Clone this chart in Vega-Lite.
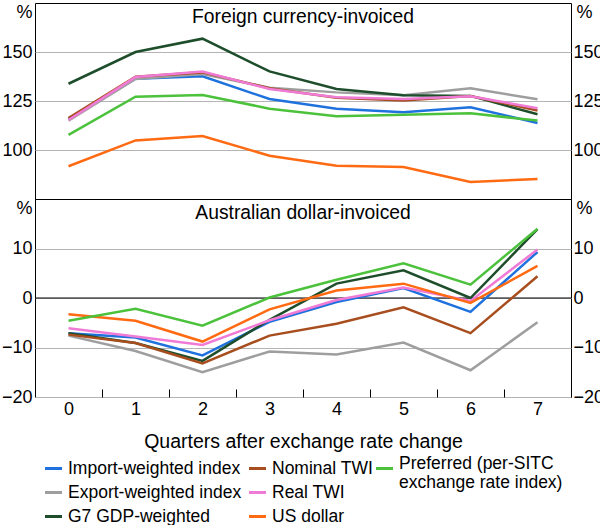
{
  "$schema": "https://vega.github.io/schema/vega-lite/v6.json",
  "padding": {"left": 0, "top": 2, "right": 0, "bottom": 0},
  "spacing": 0,
  "bounds": "flush",
  "datasets": {
    "foreign": [
      {"quarter": 0, "series": "Import-weighted index", "value": 116.0},
      {"quarter": 1, "series": "Import-weighted index", "value": 136.4},
      {"quarter": 2, "series": "Import-weighted index", "value": 137.6},
      {"quarter": 3, "series": "Import-weighted index", "value": 126.0},
      {"quarter": 4, "series": "Import-weighted index", "value": 121.1},
      {"quarter": 5, "series": "Import-weighted index", "value": 119.2},
      {"quarter": 6, "series": "Import-weighted index", "value": 121.8},
      {"quarter": 7, "series": "Import-weighted index", "value": 113.8},
      {"quarter": 0, "series": "Export-weighted index", "value": 115.0},
      {"quarter": 1, "series": "Export-weighted index", "value": 136.2},
      {"quarter": 2, "series": "Export-weighted index", "value": 138.8},
      {"quarter": 3, "series": "Export-weighted index", "value": 131.8},
      {"quarter": 4, "series": "Export-weighted index", "value": 129.4},
      {"quarter": 5, "series": "Export-weighted index", "value": 127.9},
      {"quarter": 6, "series": "Export-weighted index", "value": 131.5},
      {"quarter": 7, "series": "Export-weighted index", "value": 125.9},
      {"quarter": 0, "series": "G7 GDP-weighted", "value": 133.8},
      {"quarter": 1, "series": "G7 GDP-weighted", "value": 150.0},
      {"quarter": 2, "series": "G7 GDP-weighted", "value": 156.8},
      {"quarter": 3, "series": "G7 GDP-weighted", "value": 140.1},
      {"quarter": 4, "series": "G7 GDP-weighted", "value": 131.1},
      {"quarter": 5, "series": "G7 GDP-weighted", "value": 127.9},
      {"quarter": 6, "series": "G7 GDP-weighted", "value": 127.6},
      {"quarter": 7, "series": "G7 GDP-weighted", "value": 118.2},
      {"quarter": 0, "series": "Nominal TWI", "value": 116.3},
      {"quarter": 1, "series": "Nominal TWI", "value": 137.4},
      {"quarter": 2, "series": "Nominal TWI", "value": 139.6},
      {"quarter": 3, "series": "Nominal TWI", "value": 131.5},
      {"quarter": 4, "series": "Nominal TWI", "value": 126.7},
      {"quarter": 5, "series": "Nominal TWI", "value": 125.2},
      {"quarter": 6, "series": "Nominal TWI", "value": 127.6},
      {"quarter": 7, "series": "Nominal TWI", "value": 120.2},
      {"quarter": 0, "series": "Real TWI", "value": 115.3},
      {"quarter": 1, "series": "Real TWI", "value": 137.2},
      {"quarter": 2, "series": "Real TWI", "value": 140.0},
      {"quarter": 3, "series": "Real TWI", "value": 131.1},
      {"quarter": 4, "series": "Real TWI", "value": 126.9},
      {"quarter": 5, "series": "Real TWI", "value": 126.0},
      {"quarter": 6, "series": "Real TWI", "value": 127.4},
      {"quarter": 7, "series": "Real TWI", "value": 121.3},
      {"quarter": 0, "series": "US dollar", "value": 91.7},
      {"quarter": 1, "series": "US dollar", "value": 104.9},
      {"quarter": 2, "series": "US dollar", "value": 107.1},
      {"quarter": 3, "series": "US dollar", "value": 97.1},
      {"quarter": 4, "series": "US dollar", "value": 92.0},
      {"quarter": 5, "series": "US dollar", "value": 91.3},
      {"quarter": 6, "series": "US dollar", "value": 83.7},
      {"quarter": 7, "series": "US dollar", "value": 85.2},
      {"quarter": 0, "series": "Preferred (per-SITC exchange rate index)", "value": 107.7},
      {"quarter": 1, "series": "Preferred (per-SITC exchange rate index)", "value": 127.2},
      {"quarter": 2, "series": "Preferred (per-SITC exchange rate index)", "value": 128.1},
      {"quarter": 3, "series": "Preferred (per-SITC exchange rate index)", "value": 121.1},
      {"quarter": 4, "series": "Preferred (per-SITC exchange rate index)", "value": 117.2},
      {"quarter": 5, "series": "Preferred (per-SITC exchange rate index)", "value": 118.0},
      {"quarter": 6, "series": "Preferred (per-SITC exchange rate index)", "value": 118.7},
      {"quarter": 7, "series": "Preferred (per-SITC exchange rate index)", "value": 115.0}
    ],
    "aud": [
      {"quarter": 0, "series": "Import-weighted index", "value": -7.1},
      {"quarter": 1, "series": "Import-weighted index", "value": -8.0},
      {"quarter": 2, "series": "Import-weighted index", "value": -11.6},
      {"quarter": 3, "series": "Import-weighted index", "value": -4.8},
      {"quarter": 4, "series": "Import-weighted index", "value": -0.8},
      {"quarter": 5, "series": "Import-weighted index", "value": 2.0},
      {"quarter": 6, "series": "Import-weighted index", "value": -2.8},
      {"quarter": 7, "series": "Import-weighted index", "value": 9.3},
      {"quarter": 0, "series": "Export-weighted index", "value": -7.6},
      {"quarter": 1, "series": "Export-weighted index", "value": -10.7},
      {"quarter": 2, "series": "Export-weighted index", "value": -15.0},
      {"quarter": 3, "series": "Export-weighted index", "value": -10.8},
      {"quarter": 4, "series": "Export-weighted index", "value": -11.4},
      {"quarter": 5, "series": "Export-weighted index", "value": -9.0},
      {"quarter": 6, "series": "Export-weighted index", "value": -14.6},
      {"quarter": 7, "series": "Export-weighted index", "value": -4.9},
      {"quarter": 0, "series": "G7 GDP-weighted", "value": -7.1},
      {"quarter": 1, "series": "G7 GDP-weighted", "value": -9.1},
      {"quarter": 2, "series": "G7 GDP-weighted", "value": -12.7},
      {"quarter": 3, "series": "G7 GDP-weighted", "value": -4.4},
      {"quarter": 4, "series": "G7 GDP-weighted", "value": 2.9},
      {"quarter": 5, "series": "G7 GDP-weighted", "value": 5.6},
      {"quarter": 6, "series": "G7 GDP-weighted", "value": 0.0},
      {"quarter": 7, "series": "G7 GDP-weighted", "value": 13.9},
      {"quarter": 0, "series": "Nominal TWI", "value": -7.4},
      {"quarter": 1, "series": "Nominal TWI", "value": -9.1},
      {"quarter": 2, "series": "Nominal TWI", "value": -13.2},
      {"quarter": 3, "series": "Nominal TWI", "value": -7.6},
      {"quarter": 4, "series": "Nominal TWI", "value": -5.2},
      {"quarter": 5, "series": "Nominal TWI", "value": -1.9},
      {"quarter": 6, "series": "Nominal TWI", "value": -7.1},
      {"quarter": 7, "series": "Nominal TWI", "value": 4.4},
      {"quarter": 0, "series": "Real TWI", "value": -6.1},
      {"quarter": 1, "series": "Real TWI", "value": -7.8},
      {"quarter": 2, "series": "Real TWI", "value": -9.5},
      {"quarter": 3, "series": "Real TWI", "value": -4.5},
      {"quarter": 4, "series": "Real TWI", "value": -0.4},
      {"quarter": 5, "series": "Real TWI", "value": 2.1},
      {"quarter": 6, "series": "Real TWI", "value": -0.6},
      {"quarter": 7, "series": "Real TWI", "value": 9.8},
      {"quarter": 0, "series": "US dollar", "value": -3.3},
      {"quarter": 1, "series": "US dollar", "value": -4.6},
      {"quarter": 2, "series": "US dollar", "value": -8.8},
      {"quarter": 3, "series": "US dollar", "value": -2.3},
      {"quarter": 4, "series": "US dollar", "value": 1.5},
      {"quarter": 5, "series": "US dollar", "value": 2.9},
      {"quarter": 6, "series": "US dollar", "value": -1.0},
      {"quarter": 7, "series": "US dollar", "value": 6.5},
      {"quarter": 0, "series": "Preferred (per-SITC exchange rate index)", "value": -4.6},
      {"quarter": 1, "series": "Preferred (per-SITC exchange rate index)", "value": -2.2},
      {"quarter": 2, "series": "Preferred (per-SITC exchange rate index)", "value": -5.6},
      {"quarter": 3, "series": "Preferred (per-SITC exchange rate index)", "value": 0.1},
      {"quarter": 4, "series": "Preferred (per-SITC exchange rate index)", "value": 3.7},
      {"quarter": 5, "series": "Preferred (per-SITC exchange rate index)", "value": 7.0},
      {"quarter": 6, "series": "Preferred (per-SITC exchange rate index)", "value": 2.7},
      {"quarter": 7, "series": "Preferred (per-SITC exchange rate index)", "value": 14.0}
    ]
  },
  "vconcat": [
    {
      "width": 536,
      "height": 196,
      "data": {"name": "foreign"},
      "title": {"text": "Foreign currency-invoiced", "anchor": "middle", "offset": -24},
      "layer": [
        {
          "transform": [{"filter": "datum.series != 'Preferred (per-SITC exchange rate index)'"}],
          "mark": {"type": "line", "strokeWidth": 2.5},
          "encoding": {
            "x": {"field": "quarter", "type": "ordinal", "axis": null, "scale": {"type": "point", "padding": 0.5}},
            "y": {
              "field": "value", "type": "quantitative",
              "scale": {"domain": [75, 175], "nice": false},
              "axis": {"orient": "left", "values": [100, 125, 150], "grid": true, "labelPadding": 3, "title": "%", "titleAngle": 0, "titleX": -11, "titleY": 9, "titleAlign": "center", "titleBaseline": "middle"}
            },
            "stroke": {
              "field": "series", "type": "nominal",
              "scale": {
                "domain": ["Import-weighted index", "Nominal TWI", "Export-weighted index", "Real TWI", "G7 GDP-weighted", "US dollar"],
                "range": ["#1f72de", "#a84e1e", "#9e9e9e", "#f07bd6", "#1e4d2b", "#ff6a13"]
              },
              "legend": {"orient": "bottom", "title": null, "columns": 2, "columnPadding": 0, "rowPadding": 5, "labelOffset": 4, "offset": 7, "padding": 0, "labelLimit": 300}
            }
          }
        },
        {
          "transform": [{"filter": "datum.series == 'Preferred (per-SITC exchange rate index)'"}],
          "mark": {"type": "line", "strokeWidth": 2.5},
          "encoding": {
            "x": {"field": "quarter", "type": "ordinal", "axis": null, "scale": {"type": "point", "padding": 0.5}},
            "y": {
              "field": "value", "type": "quantitative",
              "scale": {"domain": [75, 175], "nice": false},
              "axis": {"orient": "right", "values": [100, 125, 150], "grid": false, "labelPadding": 2, "title": "%", "titleAngle": 0, "titleX": 13, "titleY": 9, "titleAlign": "center", "titleBaseline": "middle"}
            },
            "color": {
              "field": "series", "type": "nominal",
              "scale": {"domain": ["Preferred (per-SITC exchange rate index)"], "range": ["#4cc23c"]},
              "legend": {"orient": "bottom", "title": null, "offset": 7, "padding": 0, "labelOffset": 4, "labelLimit": 300, "labelBaseline": "alphabetic", "labelExpr": "['Preferred (per-SITC', ' ', 'exchange rate index)']"}
            }
          }
        }
      ],
      "resolve": {"axis": {"y": "independent"}}
    },
    {
      "width": 536,
      "height": 198,
      "data": {"name": "aud"},
      "title": {"text": "Australian dollar-invoiced", "anchor": "middle", "offset": -24},
      "layer": [
        {
          "data": {"values": [{"level": 0}]},
          "mark": {"type": "rule", "color": "#000", "strokeWidth": 1},
          "encoding": {
            "y": {"field": "level", "type": "quantitative", "axis": null, "scale": {"domain": [-20, 20], "nice": false}}
          }
        },
        {
          "transform": [{"filter": "datum.series != 'Preferred (per-SITC exchange rate index)'"}],
          "mark": {"type": "line", "strokeWidth": 2.5},
          "encoding": {
            "x": {
              "field": "quarter", "type": "ordinal", "scale": {"type": "point", "padding": 0.5},
              "axis": {"orient": "bottom", "labelAngle": 0, "ticks": true, "tickSize": -8, "tickOffset": 33.5, "labelOffset": -33.5, "tickColor": "#000", "labelPadding": 11, "title": "Quarters after exchange rate change", "titleFontSize": 19.5, "titlePadding": 14}
            },
            "y": {
              "field": "value", "type": "quantitative",
              "scale": {"domain": [-20, 20], "nice": false},
              "axis": {"orient": "left", "values": [-20, -10, 0, 10], "grid": true, "labelPadding": 3, "title": "%", "titleAngle": 0, "titleX": -11, "titleY": 9, "titleAlign": "center", "titleBaseline": "middle"}
            },
            "stroke": {
              "field": "series", "type": "nominal",
              "scale": {
                "domain": ["Import-weighted index", "Nominal TWI", "Export-weighted index", "Real TWI", "G7 GDP-weighted", "US dollar"],
                "range": ["#1f72de", "#a84e1e", "#9e9e9e", "#f07bd6", "#1e4d2b", "#ff6a13"]
              },
              "legend": {"orient": "bottom", "title": null, "columns": 2, "columnPadding": 0, "rowPadding": 5, "labelOffset": 4, "offset": 7, "padding": 0, "labelLimit": 300}
            }
          }
        },
        {
          "transform": [{"filter": "datum.series == 'Preferred (per-SITC exchange rate index)'"}],
          "mark": {"type": "line", "strokeWidth": 2.5},
          "encoding": {
            "x": {
              "field": "quarter", "type": "ordinal", "scale": {"type": "point", "padding": 0.5},
              "axis": {"orient": "bottom", "labelAngle": 0, "ticks": true, "tickSize": -8, "tickOffset": 33.5, "labelOffset": -33.5, "tickColor": "#000", "labelPadding": 11, "title": "Quarters after exchange rate change", "titleFontSize": 19.5, "titlePadding": 14}
            },
            "y": {
              "field": "value", "type": "quantitative",
              "scale": {"domain": [-20, 20], "nice": false},
              "axis": {"orient": "right", "values": [-20, -10, 0, 10], "grid": false, "labelPadding": 2, "title": "%", "titleAngle": 0, "titleX": 13, "titleY": 9, "titleAlign": "center", "titleBaseline": "middle"}
            },
            "color": {
              "field": "series", "type": "nominal",
              "scale": {"domain": ["Preferred (per-SITC exchange rate index)"], "range": ["#4cc23c"]},
              "legend": {"orient": "bottom", "title": null, "offset": 7, "padding": 0, "labelOffset": 4, "labelLimit": 300, "labelBaseline": "alphabetic", "labelExpr": "['Preferred (per-SITC', ' ', 'exchange rate index)']"}
            }
          }
        }
      ],
      "resolve": {"axis": {"y": "independent"}}
    }
  ],
  "config": {
    "font": "Liberation Sans",
    "view": {"stroke": "#000", "strokeWidth": 1},
    "axis": {
      "labelFontSize": 18, "labelColor": "#000", "titleFontSize": 18, "titleFontWeight": "normal", "titleColor": "#000",
      "domain": false, "ticks": false, "gridColor": "#b4b4b4", "gridWidth": 1
    },
    "legend": {
      "labelFontSize": 17.5, "labelColor": "#000", "symbolType": "stroke", "symbolStrokeWidth": 3, "symbolSize": 290,
      "layout": {"bottom": {"anchor": "middle", "margin": 0}}
    },
    "title": {"fontSize": 19.3, "fontWeight": "normal", "color": "#000"}
  }
}
